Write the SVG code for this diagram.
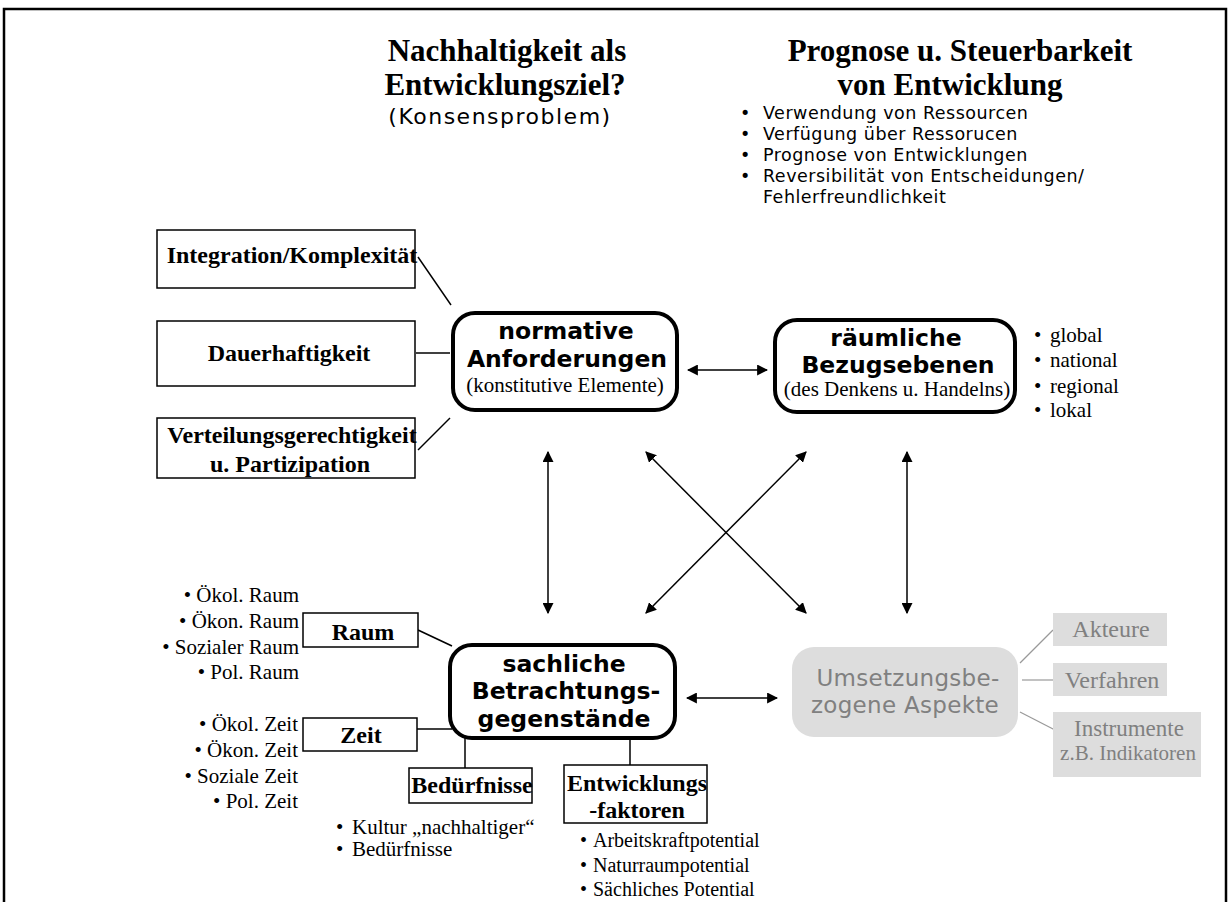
<svg xmlns="http://www.w3.org/2000/svg" width="1230" height="902" viewBox="0 0 1230 902">
<defs>
<marker id="ah" viewBox="0 0 10 10" refX="9" refY="5" markerWidth="11" markerHeight="11" markerUnits="userSpaceOnUse" orient="auto-start-reverse">
<path d="M0,0 L10,5 L0,10 z" fill="#000"/>
</marker>
<style>
.serif{font-family:"Liberation Serif","Times New Roman",serif;fill:#000}
.sans{font-family:"DejaVu Sans","Liberation Sans",sans-serif;fill:#000}
.title{font-size:31px;font-weight:bold}
.rbox{fill:#fff;stroke:#000;stroke-width:4}
.box{fill:#fff;stroke:#000;stroke-width:1.5}
.gbox{fill:#dddddd;stroke:none}
.gtext{fill:#808080}
.conn{stroke:#000;stroke-width:1.5;fill:none}
.arr{stroke:#000;stroke-width:1.5;fill:none;marker-start:url(#ah);marker-end:url(#ah)}
.gconn{stroke:#999;stroke-width:1.2;fill:none}
.node{font-size:23.5px;font-weight:bold}
.bt{font-size:24px;font-weight:bold}
.it{font-size:21px}
</style>
</defs>
<rect x="4" y="9" width="1222" height="900" fill="none" stroke="#000" stroke-width="2.5"/>

<g id="title-left">
<text class="serif title" x="507" y="61" text-anchor="middle">Nachhaltigkeit als</text>
<text class="serif title" x="505" y="95" text-anchor="middle">Entwicklungsziel?</text>
<text class="sans" x="500" y="124" text-anchor="middle" font-size="22" letter-spacing="1.5">(Konsensproblem)</text>
</g>

<g id="title-right">
<text class="serif title" x="960" y="61" text-anchor="middle">Prognose u. Steuerbarkeit</text>
<text class="serif title" x="950" y="95" text-anchor="middle">von Entwicklung</text>
<g class="sans" font-size="17.5" letter-spacing="0.5">
<text x="740" y="119">•</text><text x="763" y="119">Verwendung von Ressourcen</text>
<text x="740" y="140">•</text><text x="763" y="140">Verfügung über Ressorucen</text>
<text x="740" y="161">•</text><text x="763" y="161">Prognose von Entwicklungen</text>
<text x="740" y="182">•</text><text x="763" y="182">Reversibilität von Entscheidungen/</text>
<text x="763" y="203">Fehlerfreundlichkeit</text>
</g>
</g>

<g id="connectors">
<line class="conn" x1="418" y1="257" x2="451" y2="305"/>
<line class="conn" x1="416" y1="353" x2="450" y2="353"/>
<line class="conn" x1="418" y1="450" x2="450" y2="418"/>
<line class="arr" x1="688" y1="370" x2="767" y2="370"/>
<line class="arr" x1="548" y1="452" x2="548" y2="613"/>
<line class="arr" x1="907" y1="452" x2="907" y2="613"/>
<line class="arr" x1="646" y1="452" x2="806" y2="613"/>
<line class="arr" x1="806" y1="452" x2="646" y2="613"/>
<line class="arr" x1="687" y1="698" x2="777" y2="698"/>
<line class="conn" x1="418" y1="630" x2="452" y2="646"/>
<line class="conn" x1="417" y1="729" x2="452" y2="729"/>
<line class="conn" x1="465" y1="738" x2="465" y2="768"/>
<line class="conn" x1="630" y1="738" x2="630" y2="765"/>
<line class="gconn" x1="1020" y1="663" x2="1053" y2="630"/>
<line class="gconn" x1="1022" y1="680" x2="1053" y2="680"/>
<line class="gconn" x1="1020" y1="712" x2="1055" y2="730"/>
</g>

<g id="integration">
<rect class="box" x="157" y="230" width="258" height="58"/>
<text class="serif bt" x="292" y="263" text-anchor="middle">Integration/Komplexität</text>
</g>
<g id="dauerhaftigkeit">
<rect class="box" x="157" y="321" width="258" height="65"/>
<text class="serif bt" x="289" y="361" text-anchor="middle">Dauerhaftigkeit</text>
</g>
<g id="verteilung">
<rect class="box" x="157" y="418" width="258" height="60"/>
<text class="serif bt" x="292" y="443" text-anchor="middle">Verteilungsgerechtigkeit</text>
<text class="serif bt" x="290" y="472" text-anchor="middle">u. Partizipation</text>
</g>

<g id="normative">
<rect class="rbox" x="453" y="313" width="224" height="97" rx="22"/>
<text class="sans node" x="566" y="339" text-anchor="middle">normative</text>
<text class="sans node" x="567" y="367" text-anchor="middle">Anforderungen</text>
<text class="serif" x="565" y="392" text-anchor="middle" font-size="21">(konstitutive Elemente)</text>
</g>

<g id="raeumliche">
<rect class="rbox" x="775" y="320" width="240" height="92" rx="22"/>
<text class="sans node" x="896" y="346" text-anchor="middle">räumliche</text>
<text class="sans node" x="898" y="373" text-anchor="middle">Bezugsebenen</text>
<text class="serif" x="897" y="396" text-anchor="middle" font-size="21">(des Denkens u. Handelns)</text>
<g class="serif" font-size="21">
<text x="1034" y="342">•</text><text x="1050" y="342">global</text>
<text x="1034" y="367">•</text><text x="1050" y="367">national</text>
<text x="1034" y="393">•</text><text x="1050" y="393">regional</text>
<text x="1034" y="417">•</text><text x="1050" y="417">lokal</text>
</g>
</g>

<g id="sachliche">
<rect class="rbox" x="450" y="645" width="225" height="93" rx="22"/>
<text class="sans node" x="564" y="672" text-anchor="middle">sachliche</text>
<text class="sans node" x="566" y="699" text-anchor="middle">Betrachtungs-</text>
<text class="sans node" x="564" y="727" text-anchor="middle">gegenstände</text>
</g>

<g id="raum">
<rect class="box" x="303" y="613" width="115" height="34"/>
<text class="serif bt" x="363" y="640" text-anchor="middle">Raum</text>
<g class="serif it" text-anchor="end">
<text x="299" y="602">• Ökol. Raum</text>
<text x="299" y="628">• Ökon. Raum</text>
<text x="299" y="654">• Sozialer Raum</text>
<text x="299" y="679">• Pol. Raum</text>
</g>
</g>

<g id="zeit">
<rect class="box" x="303" y="718" width="114" height="33"/>
<text class="serif bt" x="361" y="743" text-anchor="middle">Zeit</text>
<g class="serif it" text-anchor="end">
<text x="298" y="731">• Ökol. Zeit</text>
<text x="298" y="757">• Ökon. Zeit</text>
<text x="298" y="783">• Soziale Zeit</text>
<text x="298" y="808">• Pol. Zeit</text>
</g>
</g>

<g id="beduerfnisse">
<rect class="box" x="409" y="768" width="123" height="35"/>
<text class="serif bt" x="472" y="793" text-anchor="middle">Bedürfnisse</text>
<g class="serif" font-size="21">
<text x="336" y="834">•</text><text x="352" y="834">Kultur „nachhaltiger“</text>
<text x="336" y="856">•</text><text x="352" y="856">Bedürfnisse</text>
</g>
</g>

<g id="entwicklungsfaktoren">
<rect class="box" x="564" y="765" width="143" height="58"/>
<text class="serif bt" x="637" y="791" text-anchor="middle">Entwicklungs</text>
<text class="serif bt" x="637" y="818" text-anchor="middle">-faktoren</text>
<g class="serif" font-size="20">
<text x="580" y="847">•</text><text x="593" y="847">Arbeitskraftpotential</text>
<text x="580" y="872">•</text><text x="593" y="872">Naturraumpotential</text>
<text x="580" y="896">•</text><text x="593" y="896">Sächliches Potential</text>
</g>
</g>

<g id="umsetzung">
<rect class="gbox" x="792" y="647" width="226" height="90" rx="22"/>
<text class="sans gtext" x="908" y="686" text-anchor="middle" font-size="23" letter-spacing="0.3">Umsetzungsbe-</text>
<text class="sans gtext" x="905" y="713" text-anchor="middle" font-size="23" letter-spacing="0.3">zogene Aspekte</text>
</g>
<g id="akteure">
<rect class="gbox" x="1053" y="613" width="114" height="33"/>
<text class="serif gtext" x="1111" y="637" text-anchor="middle" font-size="24">Akteure</text>
</g>
<g id="verfahren">
<rect class="gbox" x="1053" y="663" width="114" height="33"/>
<text class="serif gtext" x="1112" y="688" text-anchor="middle" font-size="24">Verfahren</text>
</g>
<g id="instrumente">
<rect class="gbox" x="1053" y="712" width="148" height="65"/>
<text class="serif gtext" x="1129" y="736" text-anchor="middle" font-size="23">Instrumente</text>
<text class="serif gtext" x="1128" y="760" text-anchor="middle" font-size="21">z.B. Indikatoren</text>
</g>
</svg>
